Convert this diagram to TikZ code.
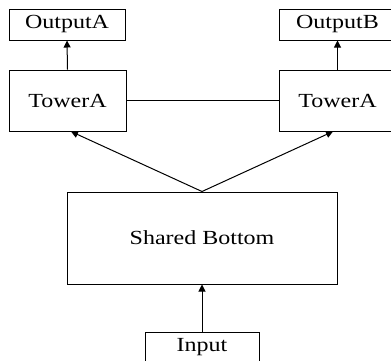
\documentclass[tikz,border=0pt]{standalone}
\usepackage{fontspec}
\setmainfont[FakeStretch=1.2]{Liberation Serif}
\usetikzlibrary{arrows.meta}
\begin{document}
\begin{tikzpicture}[x=1pt,y=-1pt,
  box/.style={draw,line width=1pt,inner sep=0pt,font=\fontsize{20}{24}\selectfont},
  arr/.style={line width=1pt,-{Triangle[length=7pt,width=7pt]}},
  link/.style={line width=0.8pt}]
  \useasboundingbox (0,0) rectangle (391,360);
  \clip (0,0) rectangle (391,360);
  % output heads
  \node[box,minimum width=116pt,minimum height=31pt] (outA) at (67,24.5) {OutputA};
  \node[box,minimum width=117pt,minimum height=31pt] (outB) at (337.5,24.5) {OutputB};
  % towers
  \node[box,minimum width=117pt,minimum height=61pt] (towA) at (67.5,100.5) {TowerA};
  \node[box,minimum width=117pt,minimum height=61pt] (towB) at (337.5,100.5) {TowerA};
  % shared layers and input
  \node[box,minimum width=270pt,minimum height=92pt] (shared) at (202,238) {Shared Bottom};
  \node[box,minimum width=114pt,minimum height=31pt] (inp) at (202,347.5) {Input};
  % connectors
  \draw[arr] (towA.north) -- (outA.south);
  \draw[arr] (towB.north) -- (outB.south);
  \draw[link] (towA.east) -- (towB.west);
  \draw[arr] (shared.north) -- ([xshift=3.5pt]towA.south);
  \draw[arr] (shared.north) -- ([xshift=-4.5pt]towB.south);
  \draw[arr] (inp.north) -- (shared.south);
\end{tikzpicture}
\end{document}
